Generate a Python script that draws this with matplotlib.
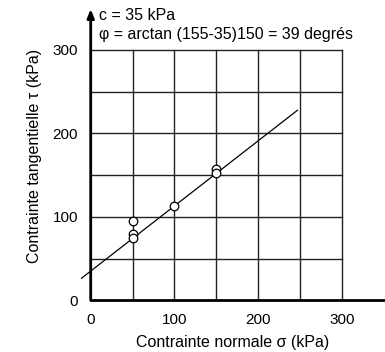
import matplotlib
matplotlib.use("Agg")
import matplotlib.pyplot as plt
import numpy as np

plt.rcParams["font.family"] = ["Liberation Sans", "DejaVu Sans"]

# ---- data ----
sigma_pts = [50, 50, 50, 100, 150, 150]
tau_pts = [95, 80, 75, 113, 157, 152]
line_sigma = [-11, 247]
c_kpa = 35
slope = 0.78
grid_vals = [50, 100, 150, 200, 250, 300]
tick_vals = [0, 100, 200, 300]

fig = plt.figure(figsize=(3.85, 3.52), dpi=100)
ax = fig.add_axes([90.7 / 385, 51.7 / 352, 284.6 / 385, 288 / 352])
ax.set_xlim(0, 340)
ax.set_ylim(0, 345)
for s in ax.spines.values():
    s.set_visible(False)

# grid
for g in grid_vals:
    ax.plot([g, g], [0, 300], color="#222222", lw=1.0, zorder=1)
    ax.plot([0, 300], [g, g], color="#222222", lw=1.0, zorder=1)

# axes lines
ax.plot([0, 352], [0, 0], color="black", lw=2.0, clip_on=False, zorder=3)
ax.annotate("", xy=(0, 349), xytext=(0, 0),
            arrowprops=dict(arrowstyle="-|>,head_length=0.5,head_width=0.2",
                            color="black", lw=2.0, shrinkA=0, shrinkB=0),
            annotation_clip=False, zorder=3)

# failure envelope
ls = np.array(line_sigma)
ax.plot(ls, c_kpa + slope * ls, color="black", lw=0.9, clip_on=False, zorder=2)

ax.scatter(sigma_pts, tau_pts, s=38, facecolors="white", edgecolors="black",
           linewidths=0.9, zorder=4, clip_on=False)

ax.set_xticks(tick_vals)
ax.set_yticks(tick_vals)
ax.tick_params(length=0, labelsize=11, pad=9)
ax.tick_params(axis="y", pad=9)

ax.set_xlabel("Contrainte normale σ (kPa)", fontsize=11.5, labelpad=6)
ax.set_ylabel("Contrainte tangentielle τ (kPa)", fontsize=11.5, labelpad=8)

fig.text(99 / 385, 1 - 15 / 352, "c = 35 kPa", fontsize=11.5, va="center", ha="left")
fig.text(99 / 385, 1 - 35 / 352, "φ = arctan (155-35)150 = 39 degrés",
         fontsize=11.5, va="center", ha="left")

fig.savefig("out.png", dpi=100)
